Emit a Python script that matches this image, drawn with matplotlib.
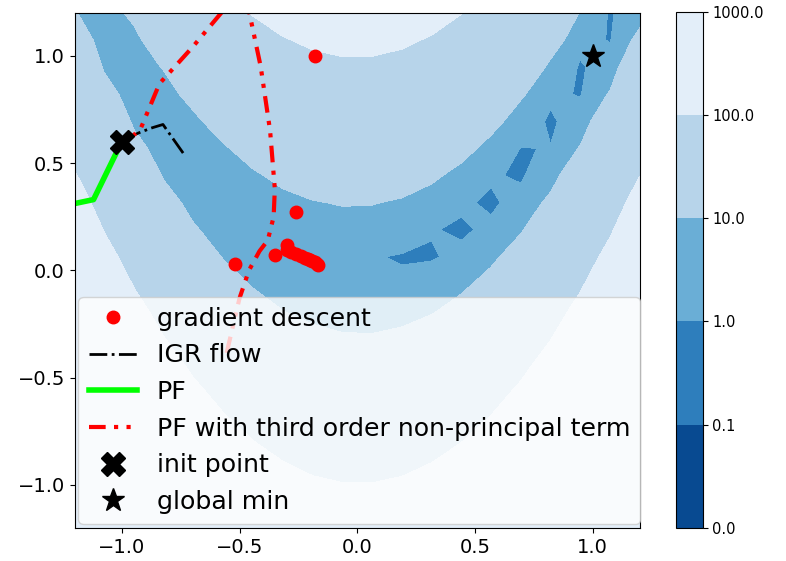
import matplotlib
matplotlib.use("Agg")
import matplotlib.pyplot as plt
import numpy as np

# contour levels of the Rosenbrock loss
levels = [0.0, 0.1, 1.0, 10.0, 100.0, 1000.0]
level_labels = ["0.0", "0.1", "1.0", "10.0", "100.0", "1000.0"]

# gradient descent iterates
gd_x = [-0.18, -0.26, -0.52, -0.35, -0.30, -0.30, -0.28, -0.26, -0.24, -0.22, -0.21, -0.20, -0.19, -0.18, -0.17, -0.165]
gd_y = [1.00, 0.27, 0.03, 0.07, 0.12, 0.095, 0.085, 0.075, 0.066, 0.058, 0.052, 0.047, 0.042, 0.037, 0.031, 0.027]

# implicit gradient regularisation flow
igr_x = [-0.99, -0.93, -0.87, -0.825, -0.78, -0.735]
igr_y = [0.61, 0.64, 0.665, 0.68, 0.61, 0.54]

# principal flow
pf_x = [-1.0, -1.12, -1.25]
pf_y = [0.60, 0.33, 0.30]

# principal flow with third order non-principal term
pf3_x = [-1.0, -0.97, -0.92, -0.84, -0.70, -0.57, -0.50, -0.46, -0.41, -0.37, -0.35, -0.355, -0.38, -0.415, -0.46, -0.50, -0.53, -0.56]
pf3_y = [0.60, 0.61, 0.66, 0.87, 1.04, 1.21, 1.30, 1.21, 0.95, 0.65, 0.38, 0.25, 0.14, 0.09, 0.0, -0.13, -0.27, -0.41]

init_pt = (-1.0, 0.6)
min_pt = (1.0, 1.0)

# Rosenbrock on a coarse grid
gx = np.linspace(-1.2, 1.2, 20)
gy = np.linspace(-1.2, 1.2, 20)
X, Y = np.meshgrid(gx, gy)
Z = (1 - X) ** 2 + 100 * (Y - X ** 2) ** 2

colors = [plt.cm.Blues(v) for v in (0.9, 0.7, 0.5, 0.3, 0.1)]

fig = plt.figure(figsize=(7.86, 5.61), dpi=100)
ax = fig.add_axes([0.095, 0.059, 0.719, 0.918])
cax = fig.add_axes([0.860, 0.059, 0.034, 0.920])

cs = ax.contourf(X, Y, Z, levels=levels, colors=colors)

ax.plot(gd_x, gd_y, 'o', color='red', markersize=9, label='gradient descent')
ax.plot(igr_x, igr_y, '-.', color='black', linewidth=2, label='IGR flow')
ax.plot(pf_x, pf_y, '-', color='lime', linewidth=4, label='PF')
ax.plot(pf3_x, pf3_y, color='red', linewidth=3, linestyle=(0, (4, 2, 1, 2, 1, 2)),
        label='PF with third order non-principal term')
ax.plot([init_pt[0]], [init_pt[1]], 'X', color='black', markersize=17, label='init point')
ax.plot([min_pt[0]], [min_pt[1]], '*', color='black', markersize=17, label='global min')

ax.set_xlim(-1.2, 1.2)
ax.set_ylim(-1.2, 1.2)
ax.set_xticks([-1.0, -0.5, 0.0, 0.5, 1.0])
ax.set_yticks([-1.0, -0.5, 0.0, 0.5, 1.0])
ax.tick_params(labelsize=14)

ax.legend(loc='lower left', fontsize=18.2, borderaxespad=0.15, handlelength=1.9,
          labelspacing=0.5)

cb = fig.colorbar(cs, cax=cax)
cb.set_ticks(levels)
cb.set_ticklabels(level_labels)
cb.ax.tick_params(labelsize=10.5)

fig.savefig('out.png', dpi=100)
